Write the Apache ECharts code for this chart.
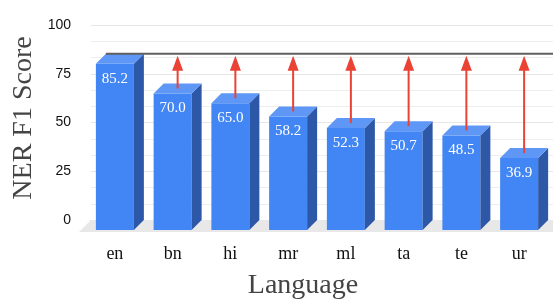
<!DOCTYPE html>
<html lang="en">
<head>
  <meta charset="UTF-8">
  <title>NER F1 Score by language</title>
  <style>
    html, body { margin: 0; padding: 0; background: #fff; }
    #chart { width: 553px; height: 300px; }
  </style>
</head>
<body>
  <div id="chart"></div>

  <script src="https://cdn.jsdelivr.net/npm/echarts@6/dist/echarts.min.js"></script>
  <script>
    // data
    const languages = ['en', 'bn', 'hi', 'mr', 'ml', 'ta', 'te', 'ur'];
    const f1Scores = [85.2, 70.0, 65.0, 58.2, 52.3, 50.7, 48.5, 36.9];
    const targetScore = 85.2;
    const yTicks = { min: 0, max: 100, interval: 25 };

    // 3d look
    const DX = 10, DY = 10, HALF = 19;
    const serif = '"Liberation Serif", "DejaVu Serif", serif';

    function renderBar(params, api) {
      const i = api.value(0);
      const v = api.value(1);
      const top = api.coord([i, v]);
      const base = api.coord([i, 0]);
      const line = api.coord([i, targetScore]);
      const cx = top[0] - DX / 2;       // front face centre
      const fl = cx - HALF, fr = cx + HALF;
      const yt = top[1], yb = base[1];
      const children = [
        { type: 'rect', shape: { x: fl, y: yt + DY, width: fr - fl, height: yb - yt },
          style: { fill: '#4285f4' } },
        { type: 'polygon', shape: { points: [[fr, yt + DY], [fr + DX, yt], [fr + DX, yb], [fr, yb + DY]] },
          style: { fill: '#2d57a7' } },
        { type: 'polygon', shape: { points: [[fl, yt + DY], [fl + DX, yt], [fr + DX, yt], [fr, yt + DY]] },
          style: { fill: '#5e97f6' } },
        { type: 'text', style: { x: cx, y: yt + DY + 15, text: v.toFixed(1), fill: '#fff',
          font: '15px ' + serif, align: 'center', verticalAlign: 'middle' } }
      ];
      if (v < targetScore) {
        const ax = top[0];
        children.push(
          { type: 'line', shape: { x1: ax, y1: yt + DY / 2, x2: ax, y2: line[1] + 14 },
            style: { stroke: '#ea4335', lineWidth: 2 } },
          { type: 'polygon', shape: { points: [[ax - 5.5, line[1] + 17], [ax + 5.5, line[1] + 17], [ax, line[1] + 2]] },
            style: { fill: '#ea4335' } }
        );
      }
      return { type: 'group', children: children };
    }

    function renderFloor(params, api) {
      const cs = params.coordSys;
      const y0 = api.coord([0, 0])[1];
      return {
        type: 'polygon',
        shape: { points: [[cs.x, y0], [cs.x + cs.width, y0], [cs.x + cs.width, y0 + 12], [cs.x - 12, y0 + 12]] },
        style: { fill: '#e8e8e8' }
      };
    }

    function renderTarget(params, api) {
      const cs = params.coordSys;
      const p = api.coord([0, targetScore]);
      const x0 = p[0] - DX / 2 - HALF + DX;
      return {
        type: 'line',
        shape: { x1: x0, y1: p[1], x2: cs.x + cs.width, y2: p[1] },
        style: { stroke: '#5f5f5f', lineWidth: 2 }
      };
    }

    const chart = echarts.init(document.getElementById('chart'));
    chart.setOption({
      animation: false,
      grid: { left: 91, right: 0, top: 25, bottom: 80 },
      xAxis: {
        type: 'category',
        data: languages,
        axisLine: { show: true, lineStyle: { color: '#a8a8a8', width: 1 } },
        axisTick: { show: false },
        axisLabel: { margin: 25, color: '#111', fontSize: 18, fontFamily: serif, padding: [0, 10, 0, 0] }
      },
      yAxis: {
        type: 'value',
        min: yTicks.min,
        max: yTicks.max,
        interval: yTicks.interval,
        axisLine: { show: false },
        axisTick: { show: false },
        axisLabel: { margin: 20, color: '#111', fontSize: 14, fontFamily: '"Liberation Sans", Arial, sans-serif' },
        splitLine: { lineStyle: { color: '#e6e6e6', width: 1 } },
        minorTick: { show: false, splitNumber: 3 },
        minorSplitLine: { show: true, lineStyle: { color: '#eeeeee', width: 1 } }
      },
      graphic: [
        { type: 'text', x: 24, y: 118, rotation: Math.PI / 2,
          style: { text: 'NER F1 Score', font: '28px ' + serif, fill: '#444', align: 'center', verticalAlign: 'middle' } },
        { type: 'text', x: 303, y: 286,
          style: { text: 'Language', font: '28px ' + serif, fill: '#444', align: 'center', verticalAlign: 'middle' } }
      ],
      series: [
        { type: 'custom', name: 'floor', renderItem: renderFloor, data: [[0, 0]], z: 1, silent: true },
        { type: 'custom', name: 'target', renderItem: renderTarget, data: [[0, targetScore]], z: 3, silent: true },
        {
          type: 'custom',
          name: 'NER F1',
          renderItem: renderBar,
          data: languages.map((l, i) => [i, f1Scores[i]]),
          z: 2
        }
      ]
    });
  </script>
</body>
</html>
